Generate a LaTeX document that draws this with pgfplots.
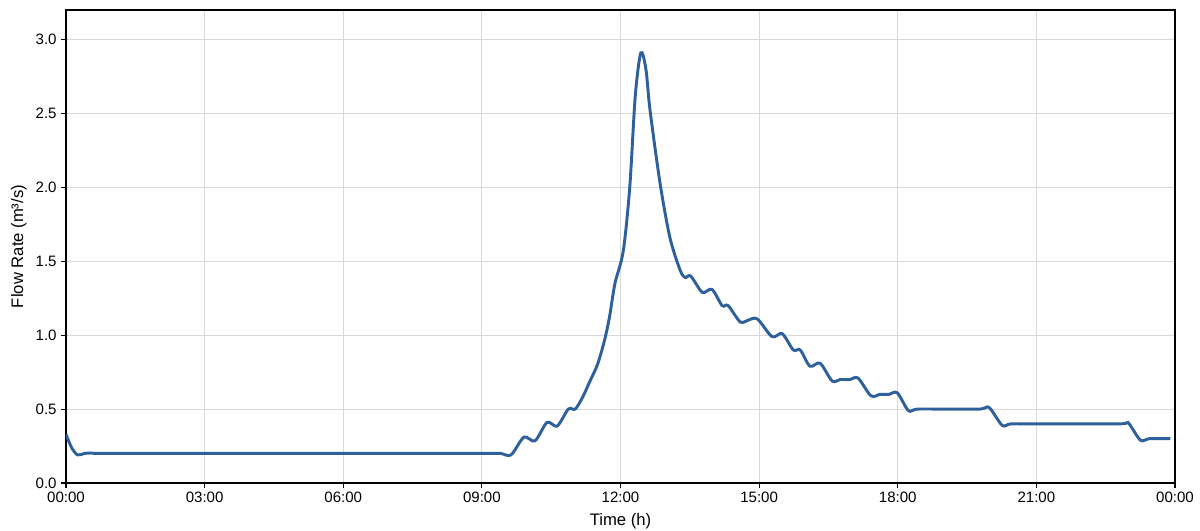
\documentclass[border=0pt]{standalone}
\usepackage{fontspec}
\setmainfont{Liberation Sans}
\usepackage{pgfplots}
\pgfplotsset{compat=1.18}
\definecolor{flowblue}{RGB}{46,96,156}
\definecolor{gridgray}{RGB}{216,216,216}

\pgfplotstableread{
h v
0.00 0.33
0.12 0.24
0.25 0.19
0.40 0.20
0.55 0.203
0.80 0.20
3.00 0.20
6.00 0.20
9.00 0.20
9.40 0.20
9.63 0.19
9.91 0.31
10.15 0.285
10.41 0.41
10.63 0.385
10.87 0.50
11.02 0.50
11.18 0.58
11.34 0.69
11.50 0.80
11.65 0.96
11.76 1.12
11.88 1.35
12.06 1.57
12.20 2.00
12.32 2.62
12.44 2.91
12.55 2.80
12.64 2.52
12.86 2.02
13.07 1.66
13.29 1.44
13.40 1.39
13.52 1.40
13.77 1.29
13.98 1.31
14.20 1.20
14.33 1.20
14.59 1.09
14.75 1.10
14.96 1.11
15.28 0.99
15.50 1.01
15.74 0.90
15.89 0.90
16.10 0.79
16.32 0.81
16.58 0.69
16.75 0.70
16.97 0.70
17.14 0.71
17.42 0.59
17.62 0.60
17.81 0.60
17.99 0.61
18.23 0.49
18.42 0.50
19.00 0.50
19.78 0.50
19.98 0.51
20.26 0.39
20.45 0.40
21.00 0.40
22.81 0.40
22.98 0.41
23.25 0.29
23.45 0.30
23.90 0.30
}\flowdata

\begin{document}
\begin{tikzpicture}
\begin{axis}[
  at={(0,0)}, anchor=south west,
  scale only axis,
  width=831.75pt, height=354.75pt,
  xmin=0, xmax=24, ymin=0, ymax=3.2,
  xtick={0,3,...,24},
  xticklabels={00:00,03:00,06:00,09:00,12:00,15:00,18:00,21:00,00:00},
  ytick={0,0.5,...,3.0},
  yticklabel style={/pgf/number format/.cd, fixed, fixed zerofill, precision=1},
  /pgf/number format/assume math mode=true,
  tick label style={font=\fontsize{11.3}{13}\selectfont},
  label style={font=\fontsize{12.5}{14}\selectfont},
  xlabel={Time (h)},
  ylabel={Flow Rate (m³/s)},
  xlabel style={yshift=-1pt},
  ylabel style={yshift=0pt},
  grid=major,
  major grid style={gridgray, line width=0.6pt},
  tick align=outside,
  tick pos=left,
  major tick length=3.5pt,
  tick style={black, line width=0.8pt},
  axis line style={black, line width=1.1pt},
]
\addplot[flowblue, line width=2.2pt, smooth, tension=0.5] table[x=h, y=v] {\flowdata};
\end{axis}
\pgfresetboundingbox
\path[use as bounding box] (-49.5pt,-36pt) rectangle (850.5pt,362.25pt);
\end{tikzpicture}
\end{document}
